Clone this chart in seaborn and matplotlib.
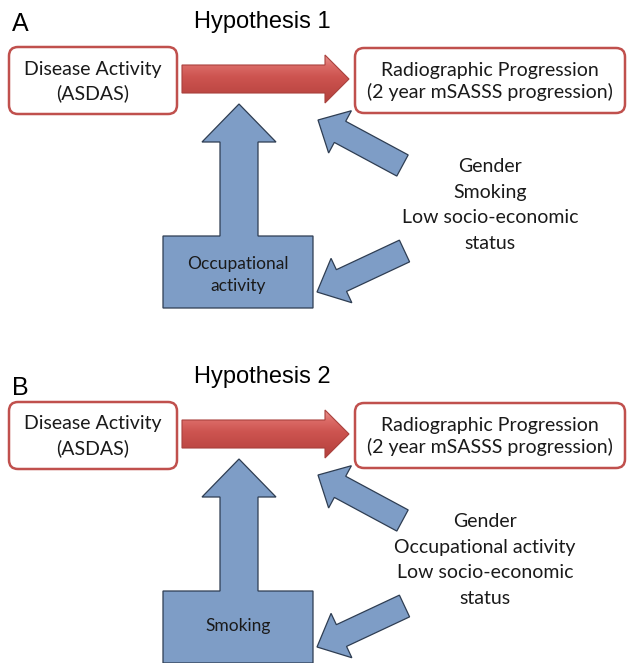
import numpy as np
import matplotlib
matplotlib.use("Agg")
import matplotlib.pyplot as plt
import seaborn as sns
from matplotlib.patches import Polygon, FancyBboxPatch, FancyArrow
from matplotlib.colors import LinearSegmentedColormap

# -----------------------------
# Diagram content
# -----------------------------

panel_labels = ["A", "B"]
titles = ["Hypothesis 1", "Hypothesis 2"]
exposure_lines = ["Disease Activity", "(ASDAS)"]
outcome_lines = ["Radiographic Progression", "(2 year mSASSS progression)"]
mediator_lines = [["Occupational", "activity"], ["Smoking"]]
confounder_lines = [
    ["Gender", "Smoking", "Low socio-economic", "status"],
    ["Gender", "Occupational activity", "Low socio-economic", "status"],
]

# -----------------------------
# Layout (pixel units, y grows downward)
# -----------------------------

panel_offset = [0, 355]
label_y = [24, 388]
confounder_x = [490, 485]

RED_EDGE = "#C0504D"
BLUE_FILL = "#7E9DC6"
BLUE_EDGE = "#2E3D52"
CALIBRI = ["Lato", "DejaVu Sans"]
ARIAL = ["Liberation Sans", "DejaVu Sans"]

sns.set_style("white")

fig = plt.figure(figsize=(6.27, 6.63), dpi=100)
ax = fig.add_axes([0, 0, 1, 1])
ax.set_xlim(0, 627)
ax.set_ylim(663, 0)
ax.set_aspect("auto")
ax.axis("off")

red_cmap = LinearSegmentedColormap.from_list(
    "red3d",
    [(0.0, "#E8938F"), (0.22, "#DB6A66"), (0.45, "#CD5450"), (1.0, "#B4403C")],
)


def rounded_box(x0, y0, x1, y1):
    box = FancyBboxPatch(
        (x0, y0), x1 - x0, y1 - y0,
        boxstyle="round,pad=0,rounding_size=9",
        facecolor="white", edgecolor=RED_EDGE, linewidth=1.8, zorder=3,
    )
    ax.add_patch(box)


def text_lines(lines, cx, cy, spacing, size, family, color="#1A1A1A"):
    n = len(lines)
    for i, line in enumerate(lines):
        y = cy + (i - (n - 1) / 2) * spacing
        ax.text(cx, y, line, ha="center", va="center", fontsize=size,
                family=family, color=color, zorder=5)


def blue_arrow(tail, tip, width, head_width, head_length):
    dx = tip[0] - tail[0]
    dy = tip[1] - tail[1]
    arr = FancyArrow(
        tail[0], tail[1], dx, dy, width=width, head_width=head_width,
        head_length=head_length, length_includes_head=True,
        facecolor=BLUE_FILL, edgecolor=BLUE_EDGE, linewidth=0.9, zorder=4,
    )
    ax.add_patch(arr)


for k in range(2):
    off = panel_offset[k]

    # panel label + title
    ax.text(20, label_y[k], panel_labels[k], ha="center", va="center",
            fontsize=18, family=ARIAL, color="black")
    ax.text(262, 22 + off, titles[k], ha="center", va="center",
            fontsize=17, family=ARIAL, color="black")

    # exposure / outcome boxes
    rounded_box(9, 47 + off, 177, 114 + off)
    text_lines(exposure_lines, 93, 81 + off, 24, 14, CALIBRI)
    rounded_box(355, 48 + off, 625, 113 + off)
    text_lines(outcome_lines, 490, 81 + off, 21, 14, CALIBRI)

    # red horizontal arrow with vertical gradient
    red_pts = [(182, 65), (325, 65), (325, 55), (349, 79), (325, 103),
               (325, 93), (182, 93)]
    red_poly = Polygon([(x, y + off) for x, y in red_pts], closed=True,
                       facecolor="none", edgecolor="#A9413D", linewidth=0.8,
                       zorder=4)
    ax.add_patch(red_poly)
    grad = np.linspace(0, 1, 200).reshape(-1, 1)
    im = ax.imshow(grad, cmap=red_cmap, aspect="auto", origin="upper",
                   extent=(182, 349, 103 + off, 55 + off), zorder=3.5,
                   interpolation="bilinear")
    im.set_clip_path(red_poly)

    # mediator: up arrow merged with box
    med_pts = [(163, 236), (220, 236), (220, 142), (202, 142), (239, 104),
               (276, 142), (258, 142), (258, 236), (313, 236), (313, 308),
               (163, 308)]
    ax.add_patch(Polygon([(x, y + off) for x, y in med_pts], closed=True,
                         facecolor=BLUE_FILL, edgecolor=BLUE_EDGE,
                         linewidth=0.9, zorder=4))
    med_cy = 275 if len(mediator_lines[k]) == 2 else 271
    text_lines(mediator_lines[k], 238, med_cy + off, 22, 12.5, CALIBRI)

    # confounder arrows
    blue_arrow((402.5, 165.5 + off), (318, 120 + off), 24, 48, 25)
    blue_arrow((404.5, 251 + off), (317, 292 + off), 24, 49, 27)

    # confounder list
    text_lines(confounder_lines[k], confounder_x[k], 205 + off, 25.5, 14,
               CALIBRI)

fig.savefig("out.png", dpi=100, facecolor="white")
